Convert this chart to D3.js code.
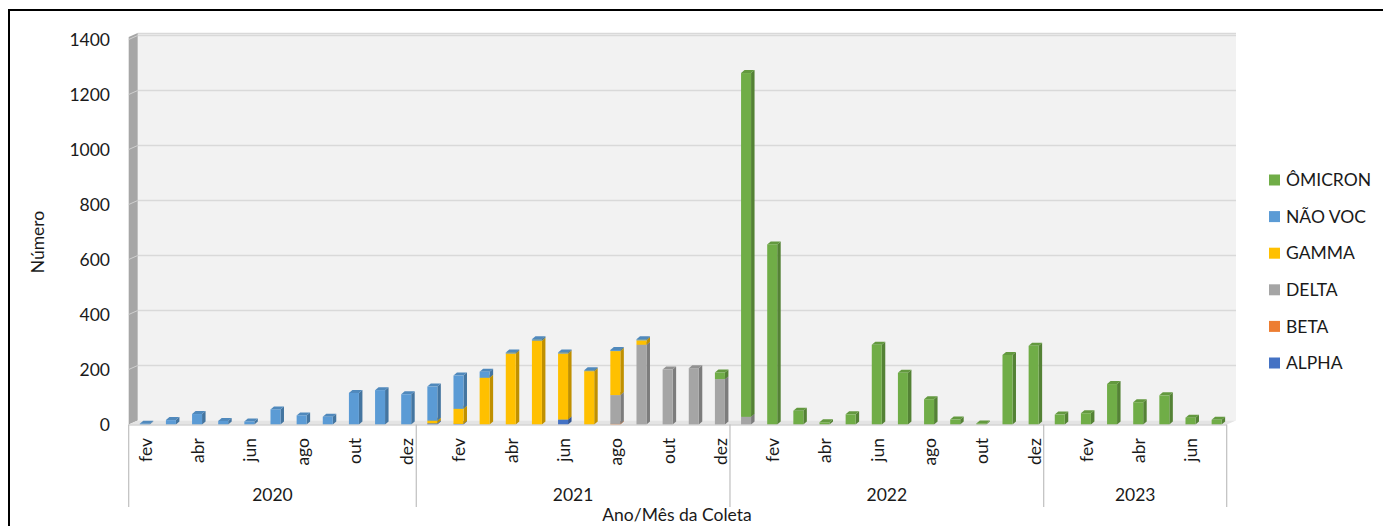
<!DOCTYPE html>
<html>
<head>
<meta charset="utf-8">
<script src="https://cdnjs.cloudflare.com/ajax/libs/d3/7.8.5/d3.min.js"></script>
<style>
  html, body { margin: 0; padding: 0; background: #fff; }
  svg { display: block; font-family: Lato, "Open Sans", sans-serif; }
</style>
</head>
<body>
<svg id="chart" width="1383" height="526"></svg>
<script>
// ---- data ----
const years = ["2020", "2021", "2022", "2023"];
const monthsByYear = [
  ["fev","mar","abr","mai","jun","jul","ago","set","out","nov","dez"],
  ["jan","fev","mar","abr","mai","jun","jul","ago","set","out","nov","dez"],
  ["jan","fev","mar","abr","mai","jun","jul","ago","set","out","nov","dez"],
  ["jan","fev","mar","abr","mai","jun","jul"]
];
const shownMonths = ["fev","abr","jun","ago","out","dez"];

const seriesNames = ["ALPHA", "BETA", "DELTA", "GAMMA", "NÃO VOC", "ÔMICRON"];
const seriesColors = ["#4472C4", "#ED7D31", "#A5A5A5", "#FFC000", "#5B9BD5", "#70AD47"];

//                  2020: fev..dez (11)                  | 2021: jan..dez (12)                                  | 2022: jan..dez (12)                                  | 2023: jan..jul (7)
const alpha    = [0,0,0,0,0,0,0,0,0,0,0,                    4,2,0,0,0,18,0,0,0,0,0,0,                              0,0,0,0,0,0,0,0,0,0,0,0,                              0,0,0,0,0,0,0];
const beta     = [0,0,0,0,0,0,0,0,0,0,0,                    0,0,0,0,0,0,0,2,0,0,0,0,                               0,0,0,0,0,0,0,0,0,0,0,0,                              0,0,0,0,0,0,0];
const delta    = [0,0,0,0,0,0,0,0,0,0,0,                    0,0,0,0,0,0,0,105,290,200,205,165,                     28,0,0,0,0,0,0,0,0,0,0,0,                             0,0,0,0,0,0,0];
const gamma    = [0,0,0,0,0,0,0,0,0,0,0,                    10,55,170,258,305,240,194,160,16,0,0,0,                0,0,0,0,0,0,0,0,0,0,0,0,                              0,0,0,0,0,0,0];
const naoVoc   = [3,16,38,13,11,55,33,28,115,125,110,       124,121,22,4,5,4,3,4,4,0,0,0,                          0,0,0,0,0,0,0,0,0,0,0,0,                              0,0,0,0,0,0,0];
const omicron  = [0,0,0,0,0,0,0,0,0,0,0,                    0,0,0,0,0,0,0,0,0,0,0,24,                              1250,655,50,8,37,290,188,92,18,4,253,286,             36,41,147,81,106,25,17];
const seriesValues = [alpha, beta, delta, gamma, naoVoc, omicron];

const yTicks = [0, 200, 400, 600, 800, 1000, 1200, 1400];

// ---- categories ----
const categories = [];
years.forEach((yr, yi) => monthsByYear[yi].forEach(m => categories.push({ key: yr + "-" + m, year: yr, month: m })));

// ---- layout ----
const svg = d3.select("#chart");
const x0 = 128.7, x1 = 1226.7;
const depthDx = 9, depthDy = -4;       // wall depth offset
const barDx = 3.5, barDy = -3;         // bar depth offset
const x = d3.scaleBand().domain(categories.map(c => c.key)).range([x0, x1]).padding(0);
const y = d3.scaleLinear().domain([0, 1400]).range([424.5, 39.5]);

// outer border
svg.append("rect").attr("x", 9).attr("y", 10).attr("width", 1380).attr("height", 530)
  .attr("fill", "none").attr("stroke", "#000").attr("stroke-width", 2);

// back wall
const wallTop = 33, wallBottom = y(0) + depthDy;
svg.append("rect").attr("x", x0 + depthDx).attr("y", wallTop)
  .attr("width", 1236 - (x0 + depthDx)).attr("height", wallBottom - wallTop)
  .attr("fill", "#F2F2F2");
svg.append("line").attr("x1", x0 + depthDx).attr("x2", 1236).attr("y1", wallTop + 0.5).attr("y2", wallTop + 0.5)
  .attr("stroke", "#D9D9D9").attr("stroke-width", 1.5);

// gridlines on back wall
svg.append("g").selectAll("line").data(yTicks.filter(t => t > 0)).join("line")
  .attr("x1", x0 + depthDx).attr("x2", 1236)
  .attr("y1", d => y(d) + depthDy).attr("y2", d => y(d) + depthDy)
  .attr("stroke", "#D9D9D9").attr("stroke-width", 1.5);

// left wall
svg.append("path")
  .attr("d", `M${x0},${wallTop + 4} L${x0 + depthDx},${wallTop} L${x0 + depthDx},${wallBottom} L${x0},${y(0)} Z`)
  .attr("fill", "#A6A6A6");
svg.append("g").selectAll("line").data(yTicks.filter(t => t > 0)).join("line")
  .attr("x1", x0).attr("x2", x0 + depthDx)
  .attr("y1", d => y(d)).attr("y2", d => y(d) + depthDy)
  .attr("stroke", "#D0D0D0").attr("stroke-width", 1);

// floor
svg.append("path")
  .attr("d", `M${x0},${y(0)} L${x0 + depthDx},${wallBottom} L1236,${wallBottom} L${x1},${y(0)} Z`)
  .attr("fill", "#E4E4E4");

// y tick labels
svg.append("g").selectAll("text").data(yTicks).join("text")
  .attr("x", 110).attr("y", d => y(d)).attr("dy", "0.35em")
  .attr("text-anchor", "end").attr("font-size", 17.5).attr("fill", "#1a1a1a")
  .text(d => d);

// y title
svg.append("text").attr("transform", "translate(44,242) rotate(-90)")
  .attr("text-anchor", "middle").attr("font-size", 17.5).attr("fill", "#1a1a1a").text("Número");

// ---- bars ----
const stacked = d3.stack().keys(d3.range(seriesNames.length))
  .value((d, k) => seriesValues[k][d.index])(categories.map((c, i) => ({ index: i, key: c.key })));

const shade = (c, k) => d3.color(c).darker(k).formatHex();
const barW = 10;
const barsG = svg.append("g");
categories.forEach((c, i) => {
  const bx = x(c.key) + x.bandwidth() / 2 - 2;
  stacked.forEach((layer, s) => {
    const [v0, v1] = layer[i];
    if (v1 - v0 <= 0) return;
    const yt = y(v1), yb = y(v0);
    const col = seriesColors[s];
    // side face
    barsG.append("path")
      .attr("d", `M${bx + barW},${yb} L${bx + barW + barDx},${yb + barDy} L${bx + barW + barDx},${yt + barDy} L${bx + barW},${yt} Z`)
      .attr("fill", shade(col, 0.8));
    // top cap
    barsG.append("path")
      .attr("d", `M${bx},${yt} L${bx + barDx},${yt + barDy} L${bx + barW + barDx},${yt + barDy} L${bx + barW},${yt} Z`)
      .attr("fill", shade(col, 0.35));
    // front face
    barsG.append("rect").attr("x", bx).attr("y", yt).attr("width", barW).attr("height", yb - yt)
      .attr("fill", col);
  });
});

// ---- x axis ----
const axisCol = "#BFBFBF";
svg.append("line").attr("x1", x0).attr("x2", x1).attr("y1", y(0) + 0.5).attr("y2", y(0) + 0.5)
  .attr("stroke", axisCol).attr("stroke-width", 1.2);

// group dividers
let acc = 0;
const bounds = [x0];
years.forEach((yr, yi) => {
  acc += monthsByYear[yi].length;
  bounds.push(acc < categories.length ? x(categories[acc].key) : x1);
});
svg.append("g").selectAll("line").data(bounds).join("line")
  .attr("x1", d => d).attr("x2", d => d).attr("y1", y(0)).attr("y2", 507)
  .attr("stroke", axisCol).attr("stroke-width", 1.2);

// month labels
svg.append("g").selectAll("text").data(categories.filter(c => shownMonths.includes(c.month))).join("text")
  .attr("transform", c => `translate(${x(c.key) + x.bandwidth() / 2 + 10},438) rotate(-90)`)
  .attr("text-anchor", "end").attr("font-size", 17.5).attr("fill", "#1a1a1a")
  .text(c => c.month);

// year labels
svg.append("g").selectAll("text").data(years).join("text")
  .attr("x", (d, i) => (bounds[i] + bounds[i + 1]) / 2).attr("y", 501)
  .attr("text-anchor", "middle").attr("font-size", 17.5).attr("fill", "#1a1a1a")
  .text(d => d);

// x title
svg.append("text").attr("x", 677).attr("y", 521).attr("text-anchor", "middle")
  .attr("font-size", 17.5).attr("fill", "#1a1a1a").text("Ano/Mês da Coleta");

// ---- legend ----
const legendOrder = d3.range(seriesNames.length).reverse();
const lg = svg.append("g").selectAll("g").data(legendOrder).join("g")
  .attr("transform", (d, i) => `translate(1269,${180 + i * 36.6})`);
lg.append("rect").attr("x", 0).attr("y", -5.5).attr("width", 11).attr("height", 11)
  .attr("fill", d => seriesColors[d]);
lg.append("text").attr("x", 17).attr("y", 0).attr("dy", "0.35em")
  .attr("font-size", 17.5).attr("fill", "#1a1a1a").text(d => seriesNames[d]);
</script>
</body>
</html>
